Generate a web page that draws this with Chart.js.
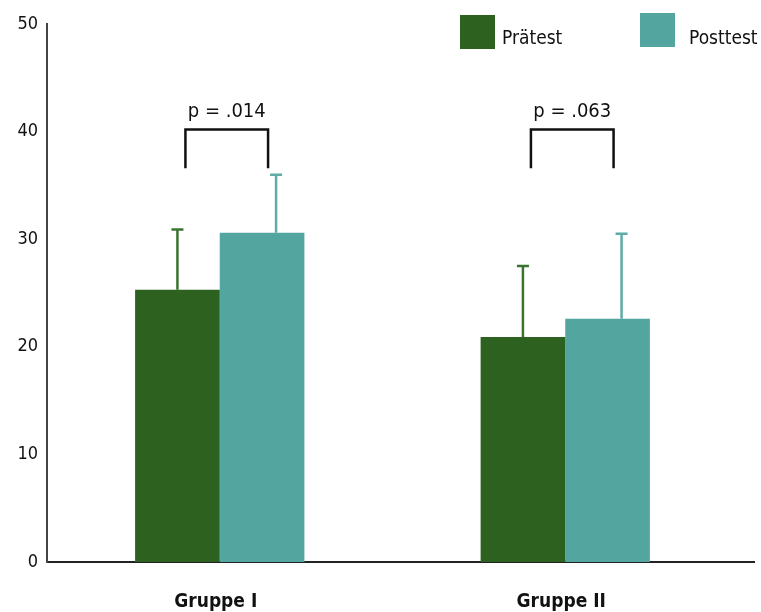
<!DOCTYPE html>
<html>
<head>
<meta charset="utf-8">
<script src="https://cdn.jsdelivr.net/npm/chart.js@4/dist/chart.umd.min.js"></script>
<style>
  html, body { margin: 0; padding: 0; background: #ffffff; }
  canvas { display: block; }
</style>
</head>
<body>
<canvas id="chart" width="761" height="612"></canvas>
<script>
// Groups on the x axis and the two measurement points
const categories = ['Gruppe I', 'Gruppe II'];
const seriesNames = ['Prätest', 'Posttest'];

// Mean scores per group
const praetest = [25.3, 20.9];
const posttest = [30.6, 22.6];

// Standard deviations (drawn upward only)
const praetestSD = [5.6, 6.6];
const posttestSD = [5.4, 7.9];

// Significance of the pre/post comparison per group
const pValues = ['p = .014', 'p = .063'];

// Y axis ticks
const yMin = 0;
const yMax = 50;
const yStep = 10;

const COLORS = {
  pre: '#2d6120',
  post: '#53a59f',
  preErr: '#3b7331',
  postErr: '#5eaca6'
};
const FONT = '"DejaVu Sans Condensed", "DejaVu Sans", sans-serif';

// Error bars: a stem above each bar with a small cap
const errorBarPlugin = {
  id: 'errorBars',
  afterDatasetsDraw(chart) {
    const ctx = chart.ctx;
    const y = chart.scales.y;
    chart.data.datasets.forEach((ds, di) => {
      const meta = chart.getDatasetMeta(di);
      meta.data.forEach((bar, i) => {
        const top = y.getPixelForValue(ds.data[i] + ds.sd[i]);
        const x = bar.x + ds.errOffset;
        ctx.save();
        ctx.strokeStyle = ds.errColor;
        ctx.lineWidth = 2.5;
        ctx.beginPath();
        ctx.moveTo(x, bar.y);
        ctx.lineTo(x, top);
        ctx.moveTo(x - 6, top);
        ctx.lineTo(x + 6, top);
        ctx.stroke();
        ctx.restore();
      });
    });
  }
};

// Brackets with p values above each group
const bracketPlugin = {
  id: 'brackets',
  afterDatasetsDraw(chart) {
    const ctx = chart.ctx;
    const y = chart.scales.y;
    const pre = chart.getDatasetMeta(0).data;
    const post = chart.getDatasetMeta(1).data;
    const yTop = y.getPixelForValue(40.2);
    const yLeg = y.getPixelForValue(36.6);
    categories.forEach((c, i) => {
      const x1 = pre[i].x + 8;
      const x2 = post[i].x + 6;
      ctx.save();
      ctx.strokeStyle = '#111111';
      ctx.lineWidth = 2.5;
      ctx.lineJoin = 'miter';
      ctx.beginPath();
      ctx.moveTo(x1, yLeg);
      ctx.lineTo(x1, yTop);
      ctx.lineTo(x2, yTop);
      ctx.lineTo(x2, yLeg);
      ctx.stroke();
      ctx.fillStyle = '#111111';
      ctx.font = '20px ' + FONT;
      ctx.textAlign = 'center';
      ctx.textBaseline = 'alphabetic';
      ctx.fillText(pValues[i], (x1 + x2) / 2, yTop - 12);
      ctx.restore();
    });
  }
};

// Legend swatches in the upper right, x axis line extended past the plot
const decorPlugin = {
  id: 'decor',
  afterDraw(chart) {
    const ctx = chart.ctx;
    const area = chart.chartArea;
    ctx.save();
    ctx.strokeStyle = '#222222';
    ctx.lineWidth = 2;
    ctx.beginPath();
    ctx.moveTo(area.right - 1, area.bottom);
    ctx.lineTo(area.right + 17, area.bottom);
    ctx.stroke();

    const items = [
      { x: 460, y: 15, color: COLORS.pre, text: seriesNames[0], tx: 502 },
      { x: 640, y: 13, color: COLORS.post, text: seriesNames[1], tx: 689 }
    ];
    items.forEach(it => {
      ctx.fillStyle = it.color;
      ctx.fillRect(it.x, it.y, 35, 34);
      ctx.fillStyle = '#111111';
      ctx.font = '19px ' + FONT;
      ctx.textAlign = 'left';
      ctx.textBaseline = 'alphabetic';
      ctx.fillText(it.text, it.tx, 44);
    });
    ctx.restore();
  }
};

new Chart(document.getElementById('chart'), {
  type: 'bar',
  data: {
    labels: categories,
    datasets: [
      {
        label: seriesNames[0],
        data: praetest,
        sd: praetestSD,
        errOffset: 0,
        errColor: COLORS.preErr,
        backgroundColor: COLORS.pre,
        categoryPercentage: 0.49,
        barPercentage: 1.0
      },
      {
        label: seriesNames[1],
        data: posttest,
        sd: posttestSD,
        errOffset: 14,
        errColor: COLORS.postErr,
        backgroundColor: COLORS.post,
        categoryPercentage: 0.49,
        barPercentage: 1.0
      }
    ]
  },
  options: {
    responsive: false,
    devicePixelRatio: 1,
    animation: false,
    layout: { padding: { top: 24, right: 23, bottom: 0, left: 0 } },
    plugins: {
      legend: { display: false },
      tooltip: { enabled: false }
    },
    scales: {
      x: {
        grid: { display: false, drawTicks: false },
        border: { display: true, color: '#222222', width: 2 },
        ticks: {
          color: '#111111',
          padding: 29,
          labelOffset: -4,
          font: { family: FONT, size: 19, weight: 'bold' }
        },
        afterFit(scale) { scale.height = 50; }
      },
      y: {
        min: yMin,
        max: yMax,
        grid: { display: false, drawTicks: false },
        border: { display: true, color: '#444444', width: 2 },
        ticks: {
          stepSize: yStep,
          color: '#111111',
          padding: 9,
          font: { family: FONT, size: 18 }
        },
        afterFit(scale) { scale.width = 47; }
      }
    }
  },
  plugins: [errorBarPlugin, bracketPlugin, decorPlugin]
});
</script>
</body>
</html>
